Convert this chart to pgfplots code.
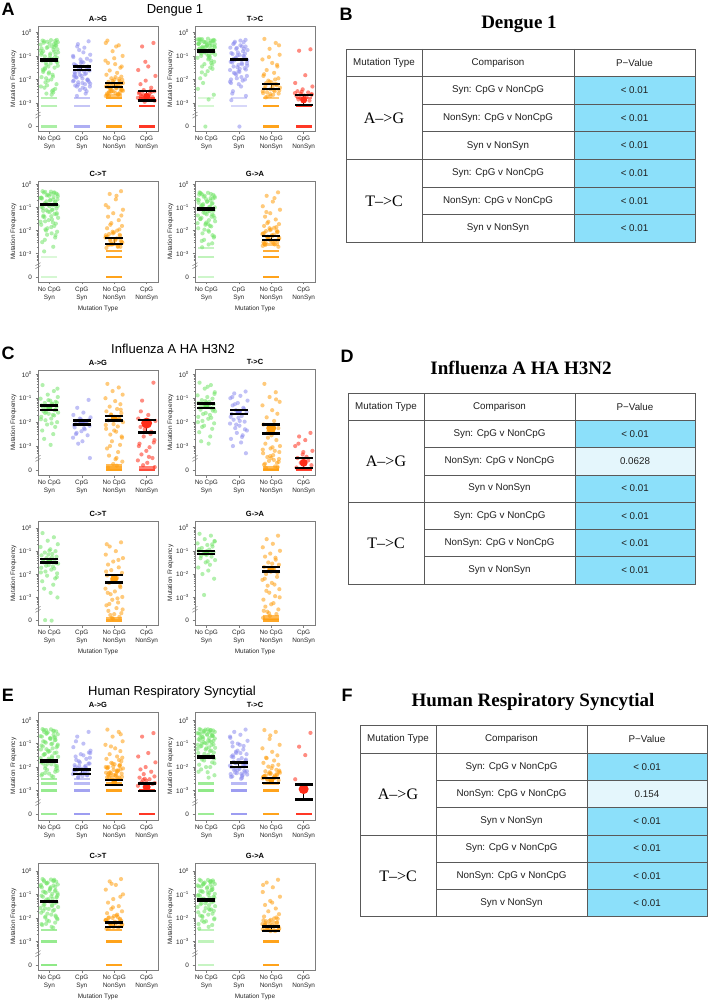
\documentclass[border=0pt]{standalone}
\usepackage{fontspec}
\setmainfont{Liberation Sans}
\newfontfamily\tnr{Liberation Serif}
\usepackage{pgfplots}
\usepackage{pgfplotstable}
\pgfplotsset{compat=1.18}

\definecolor{cG}{RGB}{115,228,105}
\definecolor{cB}{RGB}{140,140,238}
\definecolor{cO}{RGB}{255,158,15}
\definecolor{cR}{RGB}{255,45,25}
\definecolor{pblue}{RGB}{140,224,250}
\definecolor{plight}{RGB}{228,246,252}
\definecolor{axgray}{RGB}{125,125,125}

\newcommand{\fs}[1]{\fontsize{#1}{#1}\selectfont}

\pgfplotstableread{
o a b c d
-0.21 -0.35 -0.38 -0.35 -0.45
0.14 -0.5 -0.6 -0.55 -0.6
-0.05 -0.62 -0.85 -0.8 -1.45
0.26 -0.42 -1.05 -1.0 -1.6
-0.27 -0.78 -1.2 -1.2 -1.85
0.03 -0.9 -1.3 -1.35 -2.05
0.19 -0.55 -1.4 -1.5 -2.2
-0.14 -1.02 -1.48 -1.62 -2.35
0.09 -1.15 -1.55 -1.72 -2.45
-0.24 -0.68 -1.62 -1.8 -2.5
0.22 -1.25 -1.7 -1.88 -2.55
-0.09 -1.38 -1.78 -1.95 -2.6
0.01 -0.48 -1.85 -2.0 -2.65
0.16 -1.5 -1.92 -2.05 -2.7
-0.18 -1.62 -2.0 -2.1 -2.75
0.27 -0.85 -2.08 -2.15 -2.78
-0.02 -1.75 -2.15 -2.2 -2.82
0.11 -1.88 -2.22 -2.25 -2.85
-0.25 -0.95 -2.3 -2.3 -2.9
0.06 -2.0 -2.45 -2.35 -2.95
-0.12 -2.12 -2.6 -2.4 -2.48
0.24 -1.08 -1.35 -2.45 -2.58
-0.07 -2.25 -1.65 -2.5 -2.68
0.18 -2.4 -1.9 -2.55 -2.72
-0.22 -1.2 -2.1 -2.6 -2.88
0.12 -2.55 -0.5 -2.65 -2.62
-0.16 -0.38 -1.12 -2.7 -2.52
0.04 -1.32 -1.58 -1.9 -1.25
0.25 -0.72 -2.05 -2.02 nan
-0.03 -1.45 -2.35 -2.12 nan
0.08 -0.6 -0.75 -2.22 nan
-0.19 -1.68 -1.45 -2.32 nan
0.2 -0.45 -1.75 -2.42 nan
-0.1 -1.95 -2.2 -2.52 nan
0.15 -0.82 -2.7 -2.62 nan
-0.26 -2.3 -0.95 -0.45 nan
0.0 -1.1 -1.25 -1.1 nan
0.23 -0.32 -1.82 -1.45 nan
-0.13 -1.55 nan -2.18 nan
0.07 -2.65 nan -2.38 nan
}\DAG

\pgfplotstableread{
o a b c
0.05 -0.33 -1.28 -2.06
-0.17 -0.44 -1.42 -2.14
0.21 -0.57 -1.52 -2.24
-0.08 -0.66 -1.66 -2.3
0.13 -0.74 -1.74 -2.36
-0.23 -0.88 -1.88 -2.44
0.02 -0.97 -1.96 -2.5
0.17 -1.06 -2.02 -2.56
-0.11 -1.3 -2.12 -2.62
0.26 -1.42 -2.18 -2.7
-0.2 -1.58 -2.26 -2.2
0.1 -1.8 -2.4 -2.4
-0.04 -2.05 -1.15 -2.58
0.22 -2.2 -1.6 -2.66
-0.15 -2.35 -2.3 -1.98
0.08 -2.5 -0.65 -2.28
-0.27 -0.52 -1.0 -2.48
0.15 -0.63 -2.5 -2.52
-0.06 -0.4 -1.8 -0.6
0.19 -0.93 -2.04 -1.3
-0.13 -1.18 nan nan
0.25 -1.27 nan nan
-0.01 -1.7 nan nan
-0.24 -1.9 nan nan
0.12 -2.45 nan nan
-0.09 -2.6 nan nan
0.18 -0.36 nan nan
-0.19 -0.8 nan nan
0.06 -1.12 nan nan
-0.14 -1.52 nan nan
}\XDAG

\pgfplotstableread{
o a b c d
-0.21 -0.28 -0.32 -0.28 -0.72
0.14 -0.35 -0.45 -0.45 -0.78
-0.05 -0.42 -0.55 -0.7 -1.82
0.26 -0.5 -0.65 -0.95 -2.15
-0.27 -0.3 -0.75 -1.15 -2.3
0.03 -0.58 -0.85 -1.3 -2.42
0.19 -0.38 -0.92 -1.45 -2.5
-0.14 -0.65 -1.0 -1.6 -2.55
0.09 -0.45 -1.08 -1.72 -2.6
-0.24 -0.72 -1.15 -1.85 -2.65
0.22 -0.32 -1.22 -1.95 -2.7
-0.09 -0.8 -1.3 -2.05 -2.75
0.01 -0.55 -1.38 -2.12 -2.8
0.16 -0.88 -1.45 -2.2 -2.85
-0.18 -0.4 -1.52 -2.28 -2.9
0.27 -0.95 -1.6 -2.35 -2.58
-0.02 -0.62 -1.68 -2.42 -2.68
0.11 -1.05 -1.75 -2.5 -2.78
-0.25 -0.48 -1.85 -2.58 -2.62
0.06 -1.15 -1.95 -2.65 -2.52
-0.12 -0.7 -2.05 -2.72 nan
0.24 -1.25 -2.15 -0.55 nan
-0.07 -0.85 -2.3 -1.05 nan
0.18 -1.38 -2.5 -1.38 nan
-0.22 -0.33 -2.7 -1.78 nan
0.12 -1.5 -0.4 -2.0 nan
-0.16 -1.0 -0.7 -2.16 nan
0.04 -1.65 -0.98 -2.32 nan
0.25 -0.6 -1.25 -2.46 nan
-0.03 -1.8 -1.55 -2.62 nan
0.08 -1.1 -1.8 nan nan
-0.19 -1.95 -2.0 nan nan
0.2 -0.75 -2.6 nan nan
-0.1 -2.15 -0.6 nan nan
0.15 -1.3 -1.12 nan nan
-0.26 -2.4 -1.42 nan nan
0.0 -0.9 -2.2 nan nan
0.23 -2.65 -2.88 nan nan
-0.13 -1.45 nan nan nan
0.07 -2.85 nan nan nan
}\DTC

\pgfplotstableread{
o a b c
0.05 -0.27 -0.35 -2.1
-0.17 -0.31 -0.5 -2.25
0.21 -0.36 -0.6 -2.38
-0.08 -0.4 -0.7 -2.46
0.13 -0.44 -0.8 -2.54
-0.23 -0.48 -0.88 -2.6
0.02 -0.52 -0.96 -2.7
0.17 -0.56 -1.04 -2.76
-0.11 -0.6 -1.12 -2.2
0.26 -0.64 -1.2 -2.5
-0.2 -0.68 -1.28 nan
0.1 -0.73 -1.36 nan
-0.04 -0.78 -1.48 nan
0.22 -0.83 -1.58 nan
-0.15 -0.9 -1.72 nan
0.08 -0.98 -1.9 nan
-0.27 -1.08 -2.1 nan
0.15 -1.2 -0.42 nan
-0.06 -1.35 -0.66 nan
0.19 -1.55 -0.9 nan
-0.13 -0.29 -1.18 nan
0.25 -0.34 -1.32 nan
-0.01 -0.42 -1.65 nan
-0.24 -0.5 -2.0 nan
0.12 -0.58 nan nan
-0.09 -0.66 nan nan
0.18 -0.76 nan nan
-0.19 -0.86 nan nan
0.06 -1.0 nan nan
-0.14 -1.7 nan nan
}\XDTC

\pgfplotstableread{
o a c
-0.21 -0.3 -0.3
0.14 -0.38 -0.42
-0.05 -0.45 -0.65
0.26 -0.52 -0.9
-0.27 -0.6 -1.1
0.03 -0.68 -1.25
0.19 -0.75 -1.4
-0.14 -0.82 -1.55
0.09 -0.9 -1.68
-0.24 -0.98 -1.8
0.22 -1.05 -1.9
-0.09 -1.12 -2.0
0.01 -1.2 -2.08
0.16 -1.28 -2.15
-0.18 -1.35 -2.22
0.27 -1.45 -2.3
-0.02 -1.55 -2.38
0.11 -1.65 -2.45
-0.25 -1.75 -2.52
0.06 -1.85 -2.6
-0.12 -1.95 -2.68
0.24 -2.05 -2.75
-0.07 -2.18 -0.5
0.18 -2.3 -1.0
-0.22 -2.5 -1.35
0.12 -2.7 -1.75
-0.16 -2.9 -1.95
0.04 -0.42 -2.12
0.25 -0.65 -2.28
-0.03 -0.88 -2.42
0.08 -1.1 -2.58
-0.19 -1.4 -2.7
0.2 -1.7 nan
-0.1 -2.0 nan
0.15 -0.35 nan
-0.26 -0.58 nan
0.0 -0.95 nan
0.23 -1.25 nan
-0.13 -1.6 nan
0.07 -2.12 nan
}\DCT

\pgfplotstableread{
o a b c
0.05 -0.32 nan -2.05
-0.17 -0.36 nan -2.18
0.21 -0.4 nan -2.26
-0.08 -0.48 nan -2.34
0.13 -0.55 nan -2.4
-0.23 -0.62 nan -2.48
0.02 -0.7 nan -2.55
0.17 -0.78 nan -2.62
-0.11 -0.86 nan -2.7
0.26 -0.94 nan -2.2
-0.2 -1.02 nan -2.44
0.1 -1.1 nan -2.6
-0.04 -1.18 nan nan
0.22 -1.3 nan nan
-0.15 -1.42 nan nan
0.08 -1.52 nan nan
-0.27 -1.62 nan nan
0.15 -1.8 nan nan
-0.06 -1.9 nan nan
0.19 -2.2 nan nan
-0.13 -0.33 nan nan
0.25 -0.44 nan nan
-0.01 -0.5 nan nan
-0.24 -0.58 nan nan
0.12 -0.66 nan nan
-0.09 -0.74 nan nan
0.18 -0.92 nan nan
-0.19 -1.15 nan nan
0.06 -1.38 nan nan
-0.14 -2.4 nan nan
}\XDCT

\pgfplotstableread{
o a c
-0.21 -0.35 -0.35
0.14 -0.42 -0.5
-0.05 -0.5 -0.75
0.26 -0.58 -0.95
-0.27 -0.66 -1.1
0.03 -0.74 -1.25
0.19 -0.82 -1.4
-0.14 -0.9 -1.52
0.09 -0.98 -1.62
-0.24 -1.06 -1.72
0.22 -1.14 -1.8
-0.09 -1.22 -1.88
0.01 -1.3 -1.95
0.16 -1.4 -2.02
-0.18 -1.5 -2.08
0.27 -1.6 -2.15
-0.02 -1.7 -2.2
0.11 -1.8 -2.26
-0.25 -1.9 -2.32
0.06 -2.0 -2.38
-0.12 -2.12 -2.44
0.24 -2.25 -2.5
-0.07 -2.4 -2.56
0.18 -2.55 -2.62
-0.22 -0.45 -2.7
0.12 -0.7 -1.68
-0.16 -0.95 -1.85
0.04 -1.18 -1.98
0.25 -1.45 -2.12
-0.03 -1.75 -2.24
0.08 -2.05 -2.35
-0.19 -0.38 -2.47
0.2 -0.62 -2.58
-0.1 -0.86 -0.6
0.15 -1.1 -1.2
-0.26 -1.35 nan
0.0 -1.65 nan
0.23 -2.3 nan
-0.13 -2.72 nan
0.07 -2.6 nan
}\DGA

\pgfplotstableread{
o a b c
0.05 -0.37 nan -1.9
-0.17 -0.4 nan -2.0
0.21 -0.46 nan -2.1
-0.08 -0.54 nan -2.18
0.13 -0.6 nan -2.28
-0.23 -0.68 nan -2.36
0.02 -0.76 nan -2.44
0.17 -0.84 nan -2.52
-0.11 -0.92 nan -2.6
0.26 -1.0 nan -2.66
-0.2 -1.08 nan -2.05
0.1 -1.16 nan -2.3
-0.04 -1.25 nan -2.48
0.22 -1.35 nan -2.56
-0.15 -1.45 nan nan
0.08 -1.55 nan nan
-0.27 -1.68 nan nan
0.15 -1.82 nan nan
-0.06 -1.96 nan nan
0.19 -2.2 nan nan
-0.13 -0.44 nan nan
0.25 -0.52 nan nan
-0.01 -0.64 nan nan
-0.24 -0.8 nan nan
0.12 -0.96 nan nan
-0.09 -1.12 nan nan
0.18 -1.3 nan nan
-0.19 -1.5 nan nan
0.06 -1.72 nan nan
-0.14 -2.45 nan nan
}\XDGA

\pgfplotstableread{
o a b c d
-0.21 -0.45 -1.07 -0.4 -0.35
0.14 -0.7 -1.4 -0.55 -1.1
-0.05 -0.85 -1.6 -0.7 -1.7
0.26 -0.95 -1.7 -0.85 -1.85
-0.27 -1.02 -1.8 -1.0 -1.95
0.03 -1.1 -1.88 -1.12 -2.05
0.19 -1.15 -1.95 -1.25 -2.2
-0.14 -1.2 -2.02 -1.35 -2.4
0.09 -1.25 -2.08 -1.45 -2.6
-0.24 -1.3 -2.15 -1.55 -2.75
0.22 -1.35 -2.22 -1.62 -2.9
-0.09 -1.4 -2.3 -1.7 -3.05
0.01 -1.45 -2.38 -1.78 -3.2
0.16 -1.5 -2.45 -1.85 -3.35
-0.18 -1.55 -2.55 -1.92 -3.5
0.27 -1.6 -2.65 -2.0 -3.6
-0.02 -1.65 -2.8 -2.08 -3.7
0.11 -1.7 -2.9 -2.18 -3.8
-0.25 -1.78 -3.5 -2.28 -3.88
0.06 -1.85 -1.85 -2.4 -2.3
-0.12 -1.92 -2.0 -2.52 -2.5
0.24 -2.0 -2.12 -2.65 -3.0
-0.07 -2.1 -2.25 -2.8 -3.45
0.18 -2.2 -2.5 -2.95 -1.55
-0.22 -2.35 -1.92 -3.1 -2.85
0.12 -2.5 nan -3.25 nan
-0.16 -2.7 nan -3.4 nan
0.04 -2.95 nan -3.55 nan
0.25 -0.6 nan -3.65 nan
-0.03 -1.08 nan -3.75 nan
0.08 -1.22 nan -3.82 nan
-0.19 -1.38 nan -3.9 nan
0.2 -1.48 nan -1.48 nan
-0.1 -1.58 nan -1.68 nan
0.15 -1.72 nan -1.88 nan
-0.26 -1.88 nan -2.12 nan
0.0 -1.32 nan -2.35 nan
0.23 -1.18 nan -2.6 nan
-0.13 -1.62 nan -3.0 nan
0.07 -2.05 nan -3.5 nan
}\FAG

\pgfplotstableread{
o a b c d
-0.21 -0.35 -0.72 -0.4 -2.45
0.14 -0.45 -0.8 -0.75 -2.6
-0.05 -0.6 -0.9 -0.95 -2.75
0.26 -0.75 -1.0 -1.15 -3.0
-0.27 -0.88 -1.1 -1.3 -3.2
0.03 -0.95 -1.2 -1.5 -3.35
0.19 -1.02 -1.3 -1.65 -3.5
-0.14 -1.08 -1.4 -1.8 -3.6
0.09 -1.15 -1.5 -1.95 -3.7
-0.24 -1.2 -1.58 -2.1 -3.8
0.22 -1.25 -1.66 -2.25 -3.9
-0.09 -1.3 -1.74 -2.4 -3.45
0.01 -1.35 -1.82 -2.55 -3.25
0.16 -1.42 -1.9 -2.75 -2.9
-0.18 -1.48 -1.98 -2.9 nan
0.27 -1.55 -2.06 -3.0 nan
-0.02 -1.62 -2.15 -3.1 nan
0.11 -1.7 -2.25 -3.2 nan
-0.25 -1.78 -2.35 -3.3 nan
0.06 -1.86 -2.45 -3.38 nan
-0.12 -1.95 -2.55 -3.46 nan
0.24 -2.05 -2.7 -3.54 nan
-0.07 -2.15 -2.85 -3.62 nan
0.18 -2.28 -3.0 -3.7 nan
-0.22 -2.42 -3.3 -3.78 nan
0.12 -2.6 -1.25 -3.85 nan
-0.16 -2.8 -1.45 -3.92 nan
0.04 -0.52 -1.62 -3.05 nan
0.25 -0.82 -1.78 -3.25 nan
-0.03 -1.12 -1.95 -3.42 nan
0.08 -1.28 -2.1 -3.58 nan
-0.19 -1.38 -2.3 -3.74 nan
0.2 -1.52 -0.95 -3.88 nan
-0.1 -1.66 -2.62 -2.65 nan
0.15 -1.82 nan -1.05 nan
-0.26 -2.0 nan -3.15 nan
0.0 -1.18 nan -3.5 nan
0.23 -1.45 nan -3.66 nan
-0.13 -2.2 nan nan nan
0.07 -2.9 nan nan nan
}\FTC

\pgfplotstableread{
o a c
-0.21 -0.22 -0.62
0.14 -0.4 -0.8
-0.05 -0.55 -1.0
0.26 -0.7 -1.15
-0.27 -0.82 -1.3
0.03 -0.92 -1.45
0.19 -1.0 -1.58
-0.14 -1.06 -1.7
0.09 -1.12 -1.82
-0.24 -1.18 -1.94
0.22 -1.24 -2.05
-0.09 -1.3 -2.16
0.01 -1.36 -2.27
0.16 -1.42 -2.38
-0.18 -1.48 -2.5
0.27 -1.54 -2.62
-0.02 -1.6 -2.74
0.11 -1.66 -2.86
-0.25 -1.72 -2.98
0.06 -1.8 -3.1
-0.12 -1.88 -3.22
0.24 -1.96 -3.34
-0.07 -2.06 -3.46
0.18 -2.18 -3.58
-0.22 -2.3 -3.68
0.12 -2.45 -3.76
-0.16 -2.62 -3.84
0.04 -2.8 -3.92
0.25 -3.0 -1.88
-0.03 -1.15 -2.1
0.08 -1.27 -2.32
-0.19 -1.39 -2.56
0.2 -1.51 -2.8
-0.1 -1.63 -3.04
0.15 -1.75 -3.28
-0.26 -1.92 -3.52
0.0 -0.98 -3.72
0.23 -2.12 -0.7
-0.13 -3.98 -1.38
0.07 -4.0 -3.88
}\FCT

\pgfplotstableread{
o a c
-0.21 -0.27 -0.35
0.14 -0.35 -0.5
-0.05 -0.5 -0.7
0.26 -0.6 -0.85
-0.27 -0.68 -1.0
0.03 -0.75 -1.12
0.19 -0.82 -1.25
-0.14 -0.88 -1.38
0.09 -0.95 -1.5
-0.24 -1.0 -1.6
0.22 -1.06 -1.7
-0.09 -1.12 -1.8
0.01 -1.18 -1.9
0.16 -1.25 -2.0
-0.18 -1.32 -2.12
0.27 -1.4 -2.25
-0.02 -1.5 -2.38
0.11 -1.6 -2.5
-0.25 -1.72 -2.65
0.06 -1.85 -2.8
-0.12 -2.0 -2.95
0.24 -2.2 -3.1
-0.07 -2.9 -3.25
0.18 -0.72 -3.4
-0.22 -0.92 -3.52
0.12 -1.08 -3.62
-0.16 -1.22 -3.72
0.04 -1.45 -3.8
0.25 -0.58 -3.88
-0.03 -1.15 -1.55
0.08 nan -1.75
-0.19 nan -1.95
0.2 nan -2.2
-0.1 nan -2.45
0.15 nan -2.72
-0.26 nan -3.0
0.0 nan -3.3
0.23 nan -3.58
-0.13 nan -1.3
0.07 nan -3.68
}\FGA

\pgfplotstableread{
o a b c d
-0.21 -0.38 -0.5 -0.4 -0.55
0.14 -0.45 -0.7 -0.5 -0.7
-0.05 -0.52 -1.0 -0.7 -1.4
0.26 -0.6 -1.15 -0.9 -1.55
-0.27 -0.68 -1.3 -1.05 -1.8
0.03 -0.76 -1.45 -1.2 -2.0
0.19 -0.84 -1.55 -1.32 -2.1
-0.14 -0.92 -1.65 -1.45 -2.2
0.09 -1.0 -1.75 -1.55 -2.3
-0.24 -1.08 -1.85 -1.65 -2.4
0.22 -1.16 -1.92 -1.75 -2.45
-0.09 -1.24 -2.0 -1.82 -2.52
0.01 -1.32 -2.08 -1.88 -2.58
0.16 -1.4 -2.15 -1.94 -2.65
-0.18 -1.48 -2.22 -2.0 -2.72
0.27 -1.56 -2.3 -2.06 -2.8
-0.02 -1.64 -2.38 -2.12 -2.88
0.11 -1.72 -2.45 -2.18 -2.55
-0.25 -1.8 -1.6 -2.24 -2.68
0.06 -1.88 -1.8 -2.3 -2.5
-0.12 -1.96 -1.95 -2.36 nan
0.24 -2.04 -2.12 -2.42 nan
-0.07 -2.12 -2.28 -2.48 nan
0.18 -2.2 -0.9 -1.9 nan
-0.22 -2.3 -1.38 -2.02 nan
0.12 -2.42 -2.05 -2.14 nan
-0.16 -0.5 -2.35 -2.26 nan
0.04 -0.8 nan -2.38 nan
0.25 -1.1 nan -1.6 nan
-0.03 -1.35 nan -1.98 nan
0.08 -1.6 nan -2.2 nan
-0.19 -1.85 nan -2.32 nan
0.2 -2.1 nan -0.6 nan
-0.1 -0.42 nan -1.12 nan
0.15 -0.72 nan -2.44 nan
-0.26 -1.25 nan nan nan
0.0 -1.7 nan nan nan
0.23 -1.95 nan nan nan
-0.13 -2.25 nan nan nan
0.07 -2.38 nan nan nan
}\HAG

\pgfplotstableread{
o a b c
0.05 -0.39 -1.5 -1.85
-0.17 -0.42 -1.7 -1.95
0.21 -0.48 -1.85 -2.05
-0.08 -0.55 -1.95 -2.15
0.13 -0.62 -2.05 -2.22
-0.23 -0.7 -2.15 -2.28
0.02 -0.78 -2.25 -2.34
0.17 -0.86 -2.35 -2.4
-0.11 -0.96 -2.42 -2.46
0.26 -1.04 -1.4 -2.0
-0.2 -1.12 -2.0 -2.1
0.1 -1.2 -2.2 -2.26
-0.04 -1.3 -2.3 -2.36
0.22 -1.38 nan -2.44
-0.15 -1.46 nan -1.7
0.08 -1.54 nan nan
-0.27 -1.62 nan nan
0.15 -1.78 nan nan
-0.06 -1.86 nan nan
0.19 -1.94 nan nan
-0.13 -2.06 nan nan
0.25 -2.16 nan nan
-0.01 -2.28 nan nan
-0.24 -2.36 nan nan
0.12 -0.46 nan nan
-0.09 -0.58 nan nan
0.18 -0.74 nan nan
-0.19 -0.9 nan nan
0.06 -1.02 nan nan
-0.14 -1.44 nan nan
}\XHAG

\pgfplotstableread{
o a b c d
-0.21 -0.38 -0.4 -0.42 -0.54
0.14 -0.42 -0.5 -0.5 -1.13
-0.05 -0.46 -0.62 -0.8 -1.49
0.26 -0.5 -0.75 -1.05 -2.52
-0.27 -0.55 -0.88 -1.2 nan
0.03 -0.6 -1.0 -1.35 nan
0.19 -0.65 -1.12 -1.5 nan
-0.14 -0.7 -1.25 -1.62 nan
0.09 -0.76 -1.35 -1.72 nan
-0.24 -0.82 -1.45 -1.82 nan
0.22 -0.88 -1.55 -1.9 nan
-0.09 -0.94 -1.62 -1.98 nan
0.01 -1.0 -1.7 -2.05 nan
0.16 -1.06 -1.78 -2.12 nan
-0.18 -1.12 -1.86 -2.18 nan
0.27 -1.18 -1.94 -2.24 nan
-0.02 -1.25 -2.02 -2.3 nan
0.11 -1.32 -2.1 -2.36 nan
-0.25 -1.4 -2.18 -2.42 nan
0.06 -1.48 -2.26 -2.48 nan
-0.12 -1.56 -2.34 -2.54 nan
0.24 -1.64 -2.42 -2.2 nan
-0.07 -1.72 -2.5 -2.28 nan
0.18 -1.8 -1.5 -2.34 nan
-0.22 -1.9 -1.68 -2.4 nan
0.12 -2.0 -1.82 -2.46 nan
-0.16 -2.1 -1.98 -1.6 nan
0.04 -2.22 -2.14 -1.95 nan
0.25 -2.35 -2.3 -2.15 nan
-0.03 -0.4 -1.05 -0.65 nan
0.08 -0.48 -1.4 nan nan
-0.19 -0.58 -2.22 nan nan
0.2 -0.68 -0.95 nan nan
-0.1 -0.8 -2.38 nan nan
0.15 -0.92 nan nan nan
-0.26 -1.05 nan nan nan
0.0 -1.2 nan nan nan
0.23 -1.38 nan nan nan
-0.13 -1.6 nan nan nan
0.07 -2.45 nan nan nan
}\HTC

\pgfplotstableread{
o a b c
0.05 -0.39 -1.4 -2.22
-0.17 -0.41 -1.58 -2.3
0.21 -0.44 -1.72 -2.38
-0.08 -0.47 -1.84 -2.44
0.13 -0.52 -1.92 -2.5
-0.23 -0.57 -2.0 -2.56
0.02 -0.62 -2.08 -2.26
0.17 -0.67 -2.16 -2.36
-0.11 -0.72 -2.24 -2.42
0.26 -0.78 -2.32 -2.48
-0.2 -0.85 -2.4 nan
0.1 -0.9 -2.46 nan
-0.04 -0.97 -1.3 nan
0.22 -1.03 -1.9 nan
-0.15 -1.1 -2.12 nan
0.08 -1.16 -2.28 nan
-0.27 -1.22 -0.7 nan
0.15 -1.3 -1.1 nan
-0.06 -1.44 nan nan
0.19 -1.52 nan nan
-0.13 -1.68 nan nan
0.25 -1.84 nan nan
-0.01 -2.0 nan nan
-0.24 -2.2 nan nan
0.12 -0.43 nan nan
-0.09 -0.53 nan nan
0.18 -0.63 nan nan
-0.19 -0.74 nan nan
0.06 -0.86 nan nan
-0.14 -1.0 nan nan
}\XHTC

\pgfplotstableread{
o a c
-0.21 -0.35 -0.35
0.14 -0.42 -0.45
-0.05 -0.5 -0.6
0.26 -0.58 -0.8
-0.27 -0.66 -1.0
0.03 -0.74 -1.2
0.19 -0.82 -1.35
-0.14 -0.9 -1.5
0.09 -0.98 -1.62
-0.24 -1.06 -1.72
0.22 -1.14 -1.8
-0.09 -1.22 -1.86
0.01 -1.3 -1.92
0.16 -1.38 -1.98
-0.18 -1.46 -2.04
0.27 -1.54 -2.1
-0.02 -1.62 -2.16
0.11 -1.7 -2.22
-0.25 -1.78 -2.28
0.06 -1.86 -2.34
-0.12 -1.94 -2.4
0.24 -2.02 -2.46
-0.07 -2.1 -1.9
0.18 -2.2 -2.0
-0.22 -2.3 -2.12
0.12 -2.42 -2.24
-0.16 -0.45 -2.36
0.04 -0.7 -1.55
0.25 -0.95 -2.08
-0.03 -1.2 -2.3
0.08 -1.45 -0.55
-0.19 -1.7 -1.1
0.2 -1.95 nan
-0.1 -2.25 nan
0.15 -0.38 nan
-0.26 -0.6 nan
0.0 -0.85 nan
0.23 -1.1 nan
-0.13 -1.6 nan
0.07 -2.38 nan
}\HCT

\pgfplotstableread{
o a b c
0.05 -0.37 nan -2.0
-0.17 -0.4 nan -2.06
0.21 -0.46 nan -2.14
-0.08 -0.54 nan -2.2
0.13 -0.62 nan -2.26
-0.23 -0.7 nan -2.32
0.02 -0.78 nan -2.38
0.17 -0.86 nan -2.44
-0.11 -0.94 nan -1.96
0.26 -1.02 nan -2.1
-0.2 -1.1 nan -2.18
0.1 -1.18 nan -2.3
-0.04 -1.26 nan nan
0.22 -1.34 nan nan
-0.15 -1.42 nan nan
0.08 -1.5 nan nan
-0.27 -1.58 nan nan
0.15 -1.66 nan nan
-0.06 -1.82 nan nan
0.19 -1.9 nan nan
-0.13 -1.98 nan nan
0.25 -2.06 nan nan
-0.01 -2.14 nan nan
-0.24 -2.26 nan nan
0.12 -0.43 nan nan
-0.09 -0.52 nan nan
0.18 -0.68 nan nan
-0.19 -0.88 nan nan
0.06 -1.08 nan nan
-0.14 -1.3 nan nan
}\XHCT

\pgfplotstableread{
o a c
-0.21 -0.38 -0.38
0.14 -0.44 -0.5
-0.05 -0.5 -0.7
0.26 -0.56 -0.9
-0.27 -0.62 -1.1
0.03 -0.7 -1.28
0.19 -0.78 -1.45
-0.14 -0.86 -1.6
0.09 -0.94 -1.72
-0.24 -1.02 -1.84
0.22 -1.1 -1.94
-0.09 -1.18 -2.02
0.01 -1.26 -2.08
0.16 -1.34 -2.14
-0.18 -1.42 -2.2
0.27 -1.5 -2.26
-0.02 -1.58 -2.32
0.11 -1.66 -2.38
-0.25 -1.76 -2.44
0.06 -1.86 -2.5
-0.12 -1.96 -2.56
0.24 -2.06 -2.1
-0.07 -2.18 -2.18
0.18 -2.3 -2.28
-0.22 -2.45 -2.36
0.12 -0.47 -2.46
-0.16 -0.66 -1.98
0.04 -0.9 -2.24
0.25 -1.14 -0.6
-0.03 -1.38 -1.35
0.08 -1.62 nan
-0.19 -1.9 nan
0.2 -0.41 nan
-0.1 -0.58 nan
0.15 -0.82 nan
-0.26 -1.06 nan
0.0 -1.3 nan
0.23 -1.7 nan
-0.13 -2.12 nan
0.07 -2.38 nan
}\HGA

\pgfplotstableread{
o a b c
0.05 -0.39 nan -2.12
-0.17 -0.42 nan -2.2
0.21 -0.47 nan -2.3
-0.08 -0.53 nan -2.38
0.13 -0.59 nan -2.44
-0.23 -0.66 nan -2.5
0.02 -0.74 nan -2.56
0.17 -0.82 nan -2.22
-0.11 -0.9 nan -2.34
0.26 -0.98 nan -2.48
-0.2 -1.06 nan -2.04
0.1 -1.14 nan nan
-0.04 -1.22 nan nan
0.22 -1.3 nan nan
-0.15 -1.38 nan nan
0.08 -1.46 nan nan
-0.27 -1.54 nan nan
0.15 -1.64 nan nan
-0.06 -1.72 nan nan
0.19 -1.82 nan nan
-0.13 -1.92 nan nan
0.25 -2.02 nan nan
-0.01 -2.14 nan nan
-0.24 -2.26 nan nan
0.12 -0.45 nan nan
-0.09 -0.56 nan nan
0.18 -0.7 nan nan
-0.19 -0.86 nan nan
0.06 -1.02 nan nan
-0.14 -1.2 nan nan
}\XHGA

\pgfplotsset{
 every axis title/.style={at={(0.5,1)}, anchor=south, yshift=1.2pt, font=\fontsize{7.5}{8}\selectfont\bfseries},
 sp/.style={scale only axis, width=120pt, anchor=north west, clip=false,
   xmin=0.65, xmax=4.35, ymin=-4.21, ymax=0.27,
   axis line style={axgray, line width=0.6pt},
   tick pos=left, tick align=outside,
   major tick length=2.5pt, minor tick length=1.4pt,
   tick style={axgray, line width=0.5pt},
   xtick={1,2,3,4},
   xticklabels={{No CpG\\Syn},{CpG\\Syn},{No CpG\\NonSyn},{CpG\\NonSyn}},
   xticklabel style={align=center, font=\fontsize{6.4}{8.2}\selectfont, text=black!85, inner sep=2pt},
   ytick={-4,-3,-2,-1,0},
   yticklabels={0,10\textsuperscript{−3},10\textsuperscript{−2},10\textsuperscript{−1},10\textsuperscript{0}},
   yticklabel style={font=\fs{6.4}, text=black!85},
   minor ytick={-3.301,-3.222,-3.155,-3.097,-3.046,-2.699,-2.523,-2.398,-2.301,-2.222,-2.155,-2.097,-2.046,-1.699,-1.523,-1.398,-1.301,-1.222,-1.155,-1.097,-1.046,-0.699,-0.523,-0.398,-0.301,-0.222,-0.155,-0.097,-0.046},
   ylabel={Mutation Frequency},
   ylabel shift=-4pt,
   ylabel style={font=\fs{6.4}, text=black!85},
   xlabel style={font=\fs{6.4}, text=black!85},
 },
 pts/.style={only marks, color=#1, mark=*, mark size=2.1pt, mark options={line width=0pt, draw opacity=0, fill=#1, fill opacity=0.55}},
 mn/.style={only marks, color=#1, mark=*, mark options={line width=0pt, draw opacity=0, fill=#1}},
 cap/.style={only marks, color=black, mark=-, mark size=9pt, mark options={draw=black, line width=2.3pt}},
}
\tikzset{tline/.style={draw=black!65, line width=0.8pt}}

\newcommand{\ST}[4]{\addplot[only marks, color=#3, mark=-, mark size=8pt, mark options={draw=#3, draw opacity=#4, line width=2.3pt}] coordinates {(#1,#2)};}
\newcommand{\EB}[6]{%
 \addplot[mn=#5, mark size=#6pt] coordinates {(#1,#4)};
 \addplot[black, line width=1.3pt] coordinates {(#1,#2) (#1,#3)};
 \addplot[cap] coordinates {(#1,#2) (#1,#3)};
}
\newcommand{\BRK}{\draw[axgray, line width=0.5pt] ([xshift=-2.5pt,yshift=-1.5pt]axis cs:0.65,-3.45) -- ([xshift=2.5pt,yshift=1.5pt]axis cs:0.65,-3.45) ([xshift=-2.5pt,yshift=-1.5pt]axis cs:0.65,-3.58) -- ([xshift=2.5pt,yshift=1.5pt]axis cs:0.65,-3.58);}
\newcommand{\Four}[1]{%
 \addplot[pts=cG] table[x expr=1+\thisrow{o}, y=a]{#1};
 \addplot[pts=cB] table[x expr=2-\thisrow{o}, y=b]{#1};
 \addplot[pts=cO] table[x expr=3+\thisrow{o}, y=c]{#1};
 \addplot[pts=cR] table[x expr=4-\thisrow{o}, y=d]{#1};
}
\newcommand{\Two}[1]{%
 \addplot[pts=cG] table[x expr=1+\thisrow{o}, y=a]{#1};
 \addplot[pts=cO] table[x expr=3-\thisrow{o}, y=c]{#1};
}
\newcommand{\Xtra}[1]{%
 \addplot[pts=cG] table[x expr=1+\thisrow{o}, y=a]{#1};
 \addplot[pts=cB] table[x expr=2+\thisrow{o}, y=b]{#1};
 \addplot[pts=cO] table[x expr=3-\thisrow{o}, y=c]{#1};
}

\newcommand{\PTab}[8]{%
\begin{scope}[x=1pt,y=-1pt]
\fill[pblue] (#3,#5+#6) rectangle (#4,#5+7*#6);
\fill[#7] (#3,#5+2*#6) rectangle (#4,#5+3*#6);
\draw[tline] (#2,#5+2*#6) -- (#4,#5+2*#6) (#2,#5+3*#6) -- (#4,#5+3*#6) (#2,#5+5*#6) -- (#4,#5+5*#6) (#2,#5+6*#6) -- (#4,#5+6*#6);
\draw[tline] (#1,#5+#6) -- (#4,#5+#6) (#1,#5+4*#6) -- (#4,#5+4*#6);
\draw[tline] (#2,#5) -- (#2,#5+7*#6) (#3,#5) -- (#3,#5+7*#6);
\draw[tline] (#1,#5) rectangle (#4,#5+7*#6);
\path[font=\fs{9.8}, text=black!88]
 ({(#1+#2)/2},#5+0.5*#6) node {Mutation Type}
 ({(#2+#3)/2},#5+0.5*#6) node {Comparison}
 ({(#3+#4)/2},#5+0.5*#6) node {P−Value}
 ({(#2+#3)/2},#5+1.5*#6) node {Syn: CpG v NonCpG}
 ({(#2+#3)/2},#5+2.5*#6) node {NonSyn: CpG v NonCpG}
 ({(#2+#3)/2},#5+3.5*#6) node {Syn v NonSyn}
 ({(#2+#3)/2},#5+4.5*#6) node {Syn: CpG v NonCpG}
 ({(#2+#3)/2},#5+5.5*#6) node {NonSyn: CpG v NonCpG}
 ({(#2+#3)/2},#5+6.5*#6) node {Syn v NonSyn}
 ({(#3+#4)/2},#5+1.5*#6) node {< 0.01}
 ({(#3+#4)/2},#5+2.5*#6) node {#8}
 ({(#3+#4)/2},#5+3.5*#6) node {< 0.01}
 ({(#3+#4)/2},#5+4.5*#6) node {< 0.01}
 ({(#3+#4)/2},#5+5.5*#6) node {< 0.01}
 ({(#3+#4)/2},#5+6.5*#6) node {< 0.01};
\path[font=\tnr\fs{16}] ({(#1+#2)/2},#5+2.5*#6) node {A\textendash{}>G} ({(#1+#2)/2},#5+5.5*#6) node {T\textendash{}>C};
\end{scope}}

\begin{document}
\begin{tikzpicture}
\useasboundingbox (0,0) rectangle (708pt,-1000pt);

% ---------------- Dengue 1 ----------------
\node[font=\bfseries\fs{18}] at (8pt,-9pt) {A};
\node[font=\fs{13}] at (175pt,-10pt) {Dengue 1};

\begin{axis}[sp, at={(38pt,-26pt)}, height=105.5pt, title={A->G}]
\Four{\DAG}
\Xtra{\XDAG}
\ST{1}{-2.8}{cG}{0.5}\ST{1}{-3.14}{cG}{0.5}\ST{1}{-4}{cG}{0.6}
\ST{2}{-2.8}{cB}{0.5}\ST{2}{-3.14}{cB}{0.5}\ST{2}{-4}{cB}{0.7}
\ST{3}{-2.68}{cO}{0.6}\ST{3}{-2.8}{cO}{0.9}\ST{3}{-3.14}{cO}{0.95}\ST{3}{-4}{cO}{0.95}
\ST{4}{-2.8}{cR}{0.85}\ST{4}{-3.14}{cR}{0.95}\ST{4}{-4}{cR}{0.95}
\EB{1}{-1.22}{-1.15}{-1.19}{cG}{0}
\EB{2}{-1.59}{-1.45}{-1.52}{cB}{0}
\EB{3}{-2.32}{-2.15}{-2.24}{cO}{0}
\EB{4}{-2.9}{-2.48}{-2.72}{cR}{3.5}
\BRK
\end{axis}

\begin{axis}[sp, at={(195pt,-26pt)}, height=105.5pt, title={T->C}]
\Four{\DTC}
\Xtra{\XDTC}
\ST{1}{-2.8}{cG}{0.25}\ST{1}{-3.14}{cG}{0.3}
\addplot[pts=cG] coordinates {(0.97,-4)};
\ST{2}{-2.8}{cB}{0.35}\ST{2}{-3.14}{cB}{0.35}
\addplot[pts=cB] coordinates {(2.02,-4)};
\ST{3}{-2.8}{cO}{0.55}\ST{3}{-3.14}{cO}{0.95}\ST{3}{-4}{cO}{0.95}
\ST{4}{-2.8}{cR}{0.6}\ST{4}{-3.14}{cR}{0.95}\ST{4}{-4}{cR}{0.95}
\EB{1}{-0.83}{-0.77}{-0.8}{cG}{0}
\EB{2}{-1.18}{-1.12}{-1.15}{cB}{0}
\EB{3}{-2.4}{-2.2}{-2.3}{cO}{0}
\EB{4}{-3.07}{-2.67}{-2.87}{cR}{3.5}
\BRK
\end{axis}

\begin{axis}[sp, at={(38pt,-181pt)}, height=101pt, ymax=0.14, ymin=-4.22, title={C->T}, xlabel={Mutation Type}]
\Two{\DCT}
\Xtra{\XDCT}
\ST{1}{-3.14}{cG}{0.25}\ST{1}{-4}{cG}{0.3}
\ST{3}{-2.6}{cO}{0.55}\ST{3}{-2.89}{cO}{0.85}\ST{3}{-3.13}{cO}{0.95}\ST{3}{-4}{cO}{0.95}
\EB{1}{-0.9}{-0.84}{-0.87}{cG}{0}
\EB{3}{-2.57}{-2.32}{-2.45}{cO}{0}
\BRK
\end{axis}

\begin{axis}[sp, at={(195pt,-181pt)}, height=101pt, ymax=0.14, ymin=-4.22, title={G->A}, xlabel={Mutation Type}]
\Two{\DGA}
\Xtra{\XDGA}
\ST{1}{-2.75}{cG}{0.4}\ST{1}{-3.14}{cG}{0.45}\ST{1}{-4}{cG}{0.35}
\ST{3}{-2.6}{cO}{0.55}\ST{3}{-2.89}{cO}{0.85}\ST{3}{-3.14}{cO}{0.95}\ST{3}{-4}{cO}{0.95}
\EB{1}{-1.1}{-1.04}{-1.07}{cG}{0}
\EB{3}{-2.41}{-2.24}{-2.32}{cO}{0}
\BRK
\end{axis}

% ---------------- Influenza ----------------
\node[font=\bfseries\fs{18}] at (8pt,-353pt) {C};
\node[font=\fs{13}] at (173pt,-349pt) {Influenza A HA H3N2};

\begin{axis}[sp, at={(38pt,-370pt)}, height=105pt, ymax=0.18, title={A->G}]
\Four{\FAG}
\ST{3}{-3.8}{cO}{0.7}\ST{3}{-3.9}{cO}{0.85}\ST{3}{-4}{cO}{0.95}
\ST{4}{-3.9}{cR}{0.6}\ST{4}{-4}{cR}{0.85}
\EB{1}{-1.49}{-1.31}{-1.4}{cG}{3}
\EB{2}{-2.1}{-1.93}{-2.0}{cB}{3}
\EB{3}{-1.93}{-1.75}{-1.84}{cO}{3.5}
\EB{4}{-2.43}{-1.9}{-2.04}{cR}{5.5}
\BRK
\end{axis}

\begin{axis}[sp, at={(195pt,-369.5pt)}, height=105.5pt, ymax=0.2, title={T->C}]
\Four{\FTC}
\ST{3}{-3.88}{cO}{0.7}\ST{3}{-3.95}{cO}{0.85}\ST{3}{-4}{cO}{0.95}
\ST{4}{-3.95}{cR}{0.6}\ST{4}{-4}{cR}{0.9}
\EB{1}{-1.42}{-1.22}{-1.32}{cG}{3}
\EB{2}{-1.66}{-1.49}{-1.57}{cB}{3}
\EB{3}{-2.48}{-2.1}{-2.25}{cO}{5}
\EB{4}{-3.92}{-3.5}{-3.7}{cR}{4}
\BRK
\end{axis}

\begin{axis}[sp, at={(38pt,-521.5pt)}, height=103.5pt, ymax=0.28, ymin=-4.19, title={C->T}, xlabel={Mutation Type}]
\Two{\FCT}
\ST{3}{-3.9}{cO}{0.7}\ST{3}{-4}{cO}{0.9}
\EB{1}{-1.49}{-1.35}{-1.42}{cG}{3}
\EB{3}{-2.36}{-2.03}{-2.2}{cO}{4}
\BRK
\end{axis}

\begin{axis}[sp, at={(195pt,-521pt)}, height=104pt, ymax=0.28, ymin=-4.19, title={G->A}, xlabel={Mutation Type}]
\Two{\FGA}
\ST{3}{-3.82}{cO}{0.7}\ST{3}{-3.92}{cO}{0.85}\ST{3}{-4}{cO}{0.9}
\EB{1}{-1.14}{-1.0}{-1.07}{cG}{3}
\EB{3}{-1.89}{-1.69}{-1.79}{cO}{3.5}
\BRK
\end{axis}

% ---------------- HRSV ----------------
\node[font=\bfseries\fs{18}] at (8pt,-695pt) {E};
\node[font=\fs{13}] at (172pt,-692pt) {Human Respiratory Syncytial};

\begin{axis}[sp, at={(38pt,-712pt)}, height=108pt, ymax=0.35, ymin=-4.26, title={A->G}]
\Four{\HAG}
\Xtra{\XHAG}
\ST{1}{-2.52}{cG}{0.6}\ST{1}{-2.7}{cG}{0.65}\ST{1}{-3}{cG}{0.75}\ST{1}{-4}{cG}{0.7}
\ST{2}{-2.52}{cB}{0.5}\ST{2}{-2.7}{cB}{0.6}\ST{2}{-3}{cB}{0.8}\ST{2}{-4}{cB}{0.85}
\ST{3}{-2.52}{cO}{0.7}\ST{3}{-2.7}{cO}{0.8}\ST{3}{-3}{cO}{0.95}\ST{3}{-4}{cO}{0.95}
\ST{4}{-2.7}{cR}{0.6}\ST{4}{-3}{cR}{0.95}\ST{4}{-4}{cR}{0.95}
\EB{1}{-1.76}{-1.7}{-1.73}{cG}{0}
\EB{2}{-2.3}{-2.1}{-2.2}{cB}{0}
\EB{3}{-2.77}{-2.55}{-2.66}{cO}{3}
\EB{4}{-3.03}{-2.7}{-2.85}{cR}{4}
\BRK
\end{axis}

\begin{axis}[sp, at={(195pt,-712pt)}, height=108pt, ymax=0.35, ymin=-4.26, title={T->C}]
\Four{\HTC}
\Xtra{\XHTC}
\ST{1}{-2.7}{cG}{0.7}\ST{1}{-3}{cG}{0.8}\ST{1}{-4}{cG}{0.7}
\ST{2}{-2.7}{cB}{0.6}\ST{2}{-3}{cB}{0.85}\ST{2}{-4}{cB}{0.85}
\ST{3}{-2.7}{cO}{0.6}\ST{3}{-3}{cO}{0.95}\ST{3}{-4}{cO}{0.95}
\ST{4}{-4}{cR}{0.95}
\EB{1}{-1.59}{-1.53}{-1.56}{cG}{0}
\EB{2}{-1.99}{-1.81}{-1.9}{cB}{0}
\EB{3}{-2.67}{-2.48}{-2.57}{cO}{3}
\EB{4}{-3.39}{-2.75}{-2.94}{cR}{5}
\BRK
\end{axis}

\begin{axis}[sp, at={(38pt,-863pt)}, height=107pt, ymax=0.33, ymin=-4.21, title={C->T}, xlabel={Mutation Type}]
\Two{\HCT}
\Xtra{\XHCT}
\ST{1}{-2.52}{cG}{0.65}\ST{1}{-3}{cG}{0.75}\ST{1}{-4}{cG}{0.8}
\ST{3}{-2.52}{cO}{0.8}\ST{3}{-3}{cO}{0.95}\ST{3}{-4}{cO}{0.95}
\EB{1}{-1.33}{-1.27}{-1.3}{cG}{0}
\EB{3}{-2.38}{-2.2}{-2.3}{cO}{0}
\BRK
\end{axis}

\begin{axis}[sp, at={(195pt,-863pt)}, height=107pt, ymax=0.33, ymin=-4.21, title={G->A}, xlabel={Mutation Type}]
\Two{\HGA}
\Xtra{\XHGA}
\ST{1}{-2.52}{cG}{0.45}\ST{1}{-3}{cG}{0.45}\ST{1}{-4}{cG}{0.4}
\ST{3}{-2.52}{cO}{0.8}\ST{3}{-3}{cO}{0.95}\ST{3}{-4}{cO}{0.95}
\EB{1}{-1.27}{-1.21}{-1.24}{cG}{0}
\EB{3}{-2.54}{-2.37}{-2.45}{cO}{0}
\BRK
\end{axis}

% ---------------- Tables ----------------
\node[font=\bfseries\fs{18}] at (346pt,-14pt) {B};
\node[font=\tnr\bfseries\fs{19}] at (519pt,-24pt) {Dengue 1};
\PTab{346}{422}{574}{695}{49}{27.6}{pblue}{< 0.01}

\node[font=\bfseries\fs{18}] at (347pt,-356pt) {D};
\node[font=\tnr\bfseries\fs{19}] at (521pt,-368pt) {Influenza A HA H3N2};
\PTab{348}{424}{575}{695}{393}{27.3}{plight}{0.0628}

\node[font=\bfseries\fs{18}] at (347pt,-695pt) {F};
\node[font=\tnr\bfseries\fs{19}] at (533pt,-702pt) {Human Respiratory Syncytial};
\PTab{360}{436}{587}{707}{725.7}{27.3}{plight}{0.154}

\end{tikzpicture}
\end{document}
